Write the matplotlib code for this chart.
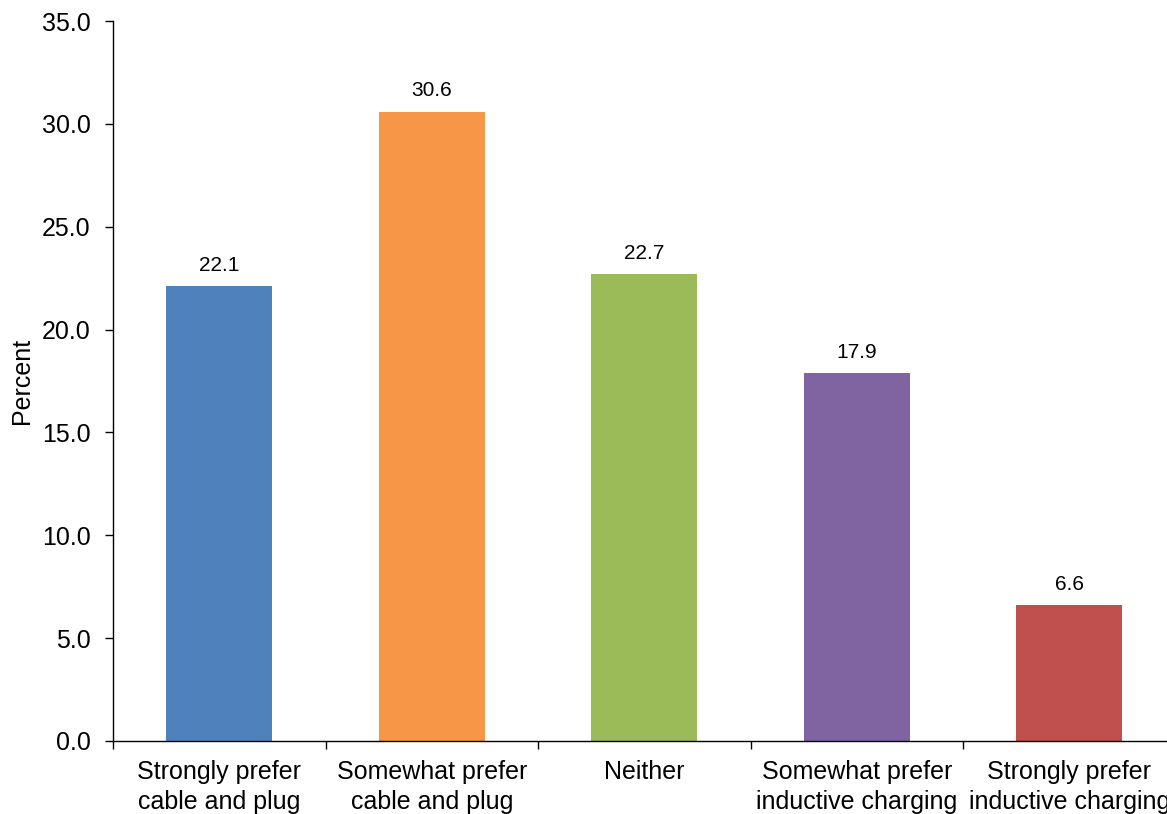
import numpy as np
import matplotlib
matplotlib.use('Agg')
import matplotlib.pyplot as plt
from matplotlib.ticker import FixedLocator, FormatStrFormatter

plt.rcParams['font.family'] = ['Liberation Sans', 'DejaVu Sans']

# Survey answers and percentages
categories = ['Strongly prefer\ncable and plug', 'Somewhat prefer\ncable and plug', 'Neither',
              'Somewhat prefer\ninductive charging', 'Strongly prefer\ninductive charging']
percent = [22.1, 30.6, 22.7, 17.9, 6.6]
bar_colors = ['#4F81BD', '#F79646', '#9BBB59', '#8064A2', '#C0504D']

fig = plt.figure(figsize=(11.67, 8.14), dpi=100)
# axes runs a bit past the right edge, like the original
ax = fig.add_axes([113 / 1167, 73 / 814, 1062.5 / 1167, 720 / 814])

x = np.arange(len(categories))
bars = ax.bar(x, percent, width=0.5, color=bar_colors, zorder=2)

for xi, v in zip(x, percent):
    ax.annotate(f'{v:.1f}', (xi, v), xytext=(0, 8), textcoords='offset points',
                ha='center', va='bottom', fontsize=15)

ax.set_xlim(-0.5, len(categories) - 0.5)
ax.set_ylim(0, 35)
ax.set_yticks(np.arange(0, 35.1, 5))
ax.yaxis.set_major_formatter(FormatStrFormatter('%.1f'))
ax.tick_params(axis='y', labelsize=18, length=6, width=1, direction='out', pad=10)

ax.set_xticks(x)
ax.set_xticklabels(categories, fontsize=18, linespacing=1.3)
ax.tick_params(axis='x', which='major', length=0, pad=14)
ax.xaxis.set_minor_locator(FixedLocator(np.arange(-0.5, len(categories), 1.0)))
ax.tick_params(axis='x', which='minor', length=6, width=1, direction='out')

ax.set_ylabel('Percent', fontsize=18, labelpad=6)

for side in ['top', 'right']:
    ax.spines[side].set_visible(False)
ax.spines['left'].set_linewidth(1)
ax.spines['bottom'].set_linewidth(1)

fig.savefig('out.png', dpi=100)
